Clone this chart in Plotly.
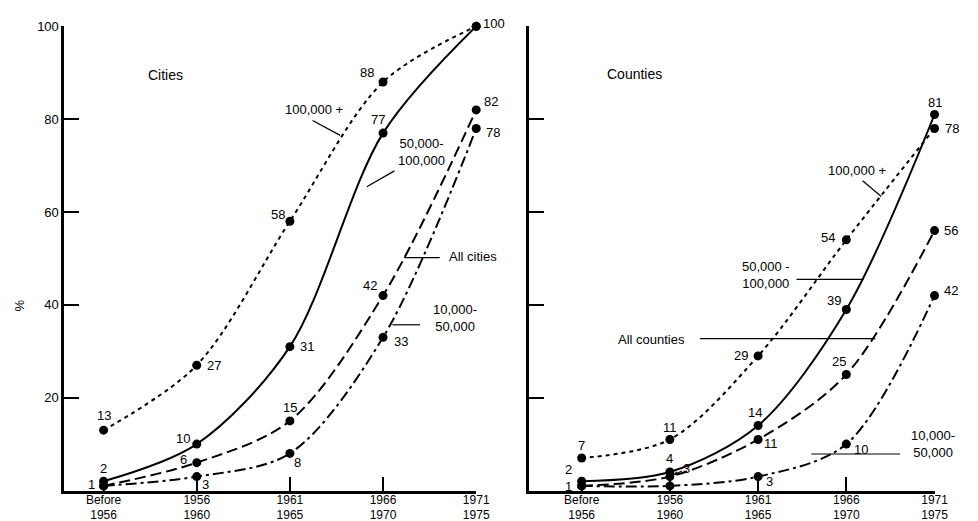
import plotly.graph_objects as go

# ---------------- data ----------------
periods = ["Before<br>1956", "1956<br>1960", "1961<br>1965", "1966<br>1970", "1971<br>1975"]
y_ticks = [20, 40, 60, 80, 100]
y_tick_labels = ["20", "40", "60", "80", "100"]

cities_100k_plus = [13, 27, 58, 88, 100]
cities_50k_100k = [2, 10, 31, 77, 100]
cities_all = [1, 6, 15, 42, 82]
cities_10k_50k = [1, 3, 8, 33, 78]

counties_100k_plus = [7, 11, 29, 54, 78]
counties_50k_100k = [2, 4, 14, 39, 81]
counties_all = [1, 3, 11, 25, 56]
counties_10k_50k = [1, 1, 3, 10, 42]

W, H = 978, 521
OFF = 8  # page body margin: the figure is drawn 8px right and down


def px(x):
    return (x - OFF) / W


def py(y):
    return 1 - (y - OFF) / H


DASH = {
    "100k": "4px,4px",
    "50k": "solid",
    "all": "11px,5px",
    "10k": "11px,4px,3px,4px",
}

xi = list(range(len(periods)))

fig = go.Figure()

# series: (values, dash key, xaxis, yaxis, label offsets per point)
series = [
    (cities_100k_plus, "100k", "x", "y", [(0, 15), (17, 0), (-12, 7), (-16, 10), (18, 3)]),
    (cities_50k_100k, "50k", "x", "y", [(0, 13), (-14, 6), (17, 0), (-5, 14), None]),
    (cities_all, "all", "x", "y", [(-12, 1), (-13, 3), (0, 13), (-13, 10), (15, 8)]),
    (cities_10k_50k, "10k", "x", "y", [None, (9, -8), (8, -9), (18, -4), (17, -4)]),
    (counties_100k_plus, "100k", "x2", "y2", [(0, 13), (0, 12), (-17, 0), (-18, 2), (17, 0)]),
    (counties_50k_100k, "50k", "x2", "y2", [(-13, 12), (0, 13), (-3, 13), (-12, 9), (0, 12)]),
    (counties_all, "all", "x2", "y2", [(-13, -1), "arrow", (13, -4), (-7, 13), (16, 0)]),
    (counties_10k_50k, "10k", "x2", "y2", [None, None, (11, -5), (15, -5), (16, 5)]),
]

num_font = dict(family="Liberation Sans", size=13, color="black")

annotations = []
for vals, dk, xa, ya, offs in series:
    fig.add_trace(go.Scatter(
        x=xi, y=vals, xaxis=xa, yaxis=ya, mode="lines+markers",
        line=dict(color="black", width=2, dash=DASH[dk], shape="spline", smoothing=0.9),
        marker=dict(color="black", size=9),
        cliponaxis=False, showlegend=False, hoverinfo="skip",
    ))
    for i, (v, o) in enumerate(zip(vals, offs)):
        if o is None:
            continue
        if o == "arrow":
            annotations.append(dict(
                x=i, y=v, xref=xa, yref=ya, text=str(v), showarrow=True,
                ax=17, ay=-8, arrowhead=2, arrowsize=0.7, arrowwidth=1.2,
                arrowcolor="black", standoff=4, font=num_font,
            ))
            continue
        annotations.append(dict(
            x=i, y=v, xref=xa, yref=ya, text=str(v), showarrow=False,
            xshift=o[0], yshift=o[1], font=num_font,
        ))

# series name labels (reference pixel coordinates)
text_labels = [
    ("100,000 +", 318, 104),
    ("50,000-<br>100,000", 427, 147),
    ("All cities", 480, 253),
    ("10,000-<br>50,000", 461, 315),
    ("100,000 +", 869, 166),
    ("50,000 -<br>100,000", 777, 272),
    ("All counties", 661, 337),
    ("10,000-<br>50,000", 946, 443),
]
for t, x, y in text_labels:
    annotations.append(dict(
        x=px(x), y=py(y), xref="paper", yref="paper", text=t, showarrow=False,
        xanchor="center", yanchor="middle", align="center", font=num_font,
    ))

# panel titles and y label
annotations += [
    dict(x=px(148), y=py(59), xref="paper", yref="paper", text="Cities", showarrow=False,
         font=dict(family="Liberation Sans", size=14, color="black")),
    dict(x=px(644), y=py(58), xref="paper", yref="paper", text="Counties", showarrow=False,
         font=dict(family="Liberation Sans", size=14, color="black")),
    dict(x=px(10), y=py(302), xref="paper", yref="paper", text="%", showarrow=False,
         textangle=-90, font=num_font),
]

# leader lines
leaders = [
    (317, 115, 345, 130),
    (400, 166, 372, 182),
    (410, 254, 446, 254),
    (398, 322, 426, 322),
    (875, 176, 894, 192),
    (808, 276, 876, 276),
    (710, 336, 888, 336),
    (823, 453, 913, 453),
]
shapes = [dict(type="line", xref="paper", yref="paper", x0=px(a), y0=py(b), x1=px(c), y1=py(d),
               line=dict(color="black", width=1.2)) for a, b, c, d in leaders]

x_common = dict(
    tickmode="array", tickvals=xi, ticktext=periods, ticks="inside", ticklen=14,
    tickwidth=1.5, tickcolor="black", showline=True, linecolor="black", linewidth=2.5,
    showgrid=False, zeroline=False, ticklabelstandoff=-4,
    tickfont=dict(family="Liberation Sans", size=12, color="black"),
)
y_common = dict(
    range=[0, 100], tickmode="array", tickvals=y_ticks, ticks="inside", ticklen=15,
    tickwidth=1.5, tickcolor="black", showline=True, linecolor="black", linewidth=2.5,
    showgrid=False, zeroline=False, tickfont=num_font,
)

fig.update_layout(
    width=W, height=H, autosize=False, margin=dict(l=0, r=0, t=0, b=0),
    paper_bgcolor="white", plot_bgcolor="white",
    xaxis=dict(x_common, domain=[px(65), px(483)], range=[-0.423, 4.0], anchor="y"),
    yaxis=dict(y_common, domain=[py(490), py(19.5)], ticktext=y_tick_labels, anchor="x"),
    xaxis2=dict(x_common, domain=[px(537), px(948)], range=[-0.592, 4.0], anchor="y2"),
    yaxis2=dict(y_common, domain=[py(490), py(19.5)], showticklabels=False, anchor="x2"),
    annotations=annotations, shapes=shapes,
)

fig.write_html("out.html", config={"displayModeBar": False})
